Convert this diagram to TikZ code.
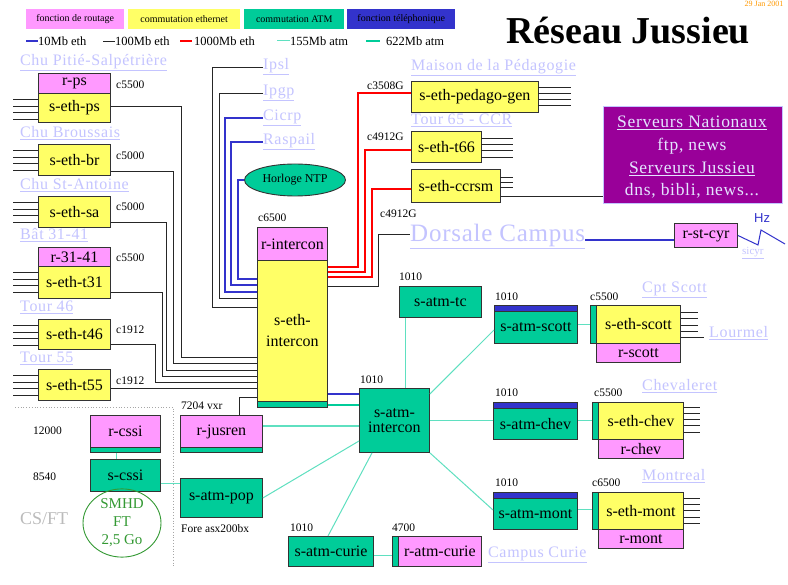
\documentclass[tikz,border=0pt]{standalone}
\usepackage{fontspec}
\setmainfont{Liberation Serif}
\newfontfamily\myHz{Liberation Sans}
\usetikzlibrary{shapes.geometric,calc}
\definecolor{cpink}{HTML}{FF99FF}
\definecolor{cyel}{HTML}{FFFF66}
\definecolor{cgreen}{HTML}{00CC99}
\definecolor{cblue}{HTML}{3333CC}
\definecolor{cpurple}{HTML}{990099}
\definecolor{clink}{HTML}{C4C4FF}
\definecolor{ccyan}{HTML}{5FE0C0}
\definecolor{cborder}{HTML}{333333}
\definecolor{corange}{HTML}{FF9900}
\definecolor{cgrayt}{HTML}{BBBBBB}
\definecolor{csmhd}{HTML}{339933}
\definecolor{cserv}{HTML}{E4E4FF}
\newcommand\myLbl{\fontsize{16}{18}\selectfont}
\newcommand\myLink{\fontsize{16}{18}\selectfont\addfontfeatures{LetterSpace=4}}
\newcommand\mySmall{\fontsize{11.5}{13}\selectfont}
\begin{document}
\begin{tikzpicture}[x=1pt,y=-1pt,
  box/.style={draw=cborder, line width=0.9pt, inner sep=0pt, anchor=north west, font=\myLbl},
  pbox/.style={box, fill=cpink},
  ybox/.style={box, fill=cyel},
  gbox/.style={box, fill=cgreen},
  bstrip/.style={box, fill=cblue},
  gstrip/.style={box, fill=cgreen},
  link/.style={anchor=west, text=clink, font=\myLink, inner sep=0pt},
  small/.style={anchor=west, font=\mySmall, inner sep=0pt},
  legbox/.style={anchor=north west, inner sep=0pt, minimum height=20pt, font=\fontsize{10}{11}\selectfont},
  legtxt/.style={anchor=west, inner sep=0pt, font=\fontsize{12.5}{13}\selectfont},
  l10/.style={draw=cblue, line width=1.6pt},
  l100/.style={draw=black!85, line width=0.8pt},
  l1000/.style={draw=red, line width=1.6pt},
  l155/.style={draw=ccyan, line width=1pt},
  l622/.style={draw=cgreen, line width=2.6pt},
  servtxt/.style={text=cserv, font=\fontsize{17.5}{19}\selectfont\addfontfeatures{LetterSpace=4}, inner sep=0pt}
]
\useasboundingbox (0,0) rectangle (788,585);
\fill[white] (0,0) rectangle (788,585);

% ---------- legend ----------
\node[legbox, fill=cpink, minimum width=98pt] (lg1) at (26,9) {fonction de routage};
\node[legbox, fill=cyel, minimum width=112pt] (lg2) at (128,9) {commutation ethernet};
\node[legbox, fill=cgreen, minimum width=100pt] (lg3) at (244,9) {commutation ATM};
\node[legbox, fill=cblue, minimum width=108pt] (lg4) at (347,9) {fonction t\'el\'ephonique};
\coordinate (ll1a) at (26,41); \coordinate (ll1b) at (38,41);
\draw[l10] (ll1a) -- (ll1b);
\node[legtxt] (lt1) at (38,41) {10Mb eth};
\coordinate (ll2a) at (103,41); \coordinate (ll2b) at (115,41);
\draw[l100] (ll2a) -- (ll2b);
\node[legtxt] (lt2) at (115,41) {100Mb eth};
\coordinate (ll3a) at (180,41); \coordinate (ll3b) at (192,41);
\draw[l1000] (ll3a) -- (ll3b);
\node[legtxt] (lt3) at (194,41) {1000Mb eth};
\coordinate (ll4a) at (277,41); \coordinate (ll4b) at (290,41);
\draw[l155] (ll4a) -- (ll4b);
\node[legtxt] (lt4) at (290,41) {155Mb atm};
\coordinate (ll5a) at (366,41); \coordinate (ll5b) at (380,41);
\draw[l622] (ll5a) -- (ll5b);
\node[legtxt] (lt5) at (386,41) {622Mb atm};

% ---------- title ----------
\node[anchor=base west, inner sep=0pt, font=\fontsize{38}{42}\selectfont\bfseries] (title) at (506,44) {R\'eseau Jussieu};
\node[anchor=base, inner sep=0pt, text=corange, font=\fontsize{8}{9}\selectfont] (date) at (764,7) {29 Jan 2001};

% ---------- left column ----------
\node[link] (lps) at (20,63) {\underline{Chu Piti\'e-Salp\'etri\`ere}};
\node[pbox, minimum width=72pt, minimum height=20pt] (rps) at (38,73) {r-ps};
\node[ybox, minimum width=72pt, minimum height=29pt] (ethps) at (38,93) {s-eth-ps};
\node[small] (cps) at (116,85) {c5500};

\node[link] (lbr) at (20,133) {\underline{Chu Broussais}};
\node[ybox, minimum width=72pt, minimum height=31pt] (ethbr) at (38,144) {s-eth-br};
\node[small] (cbr) at (116,156) {c5000};

\node[link] (lsa) at (20,185) {\underline{Chu St-Antoine}};
\node[ybox, minimum width=72pt, minimum height=31pt] (ethsa) at (38,196) {s-eth-sa};
\node[small] (csa) at (116,207) {c5000};

\node[link] (l31) at (20,235) {\underline{B\^at 31-41}};
\node[pbox, minimum width=72pt, minimum height=19pt] (r3141) at (38,247) {r-31-41};
\node[ybox, minimum width=72pt, minimum height=32pt] (etht31) at (38,266) {s-eth-t31};
\node[small] (c31) at (116,258) {c5500};

\node[link] (l46) at (20,307) {\underline{Tour 46}};
\node[ybox, minimum width=72pt, minimum height=30pt] (etht46) at (38,319) {s-eth-t46};
\node[small] (c46) at (116,330) {c1912};

\node[link] (l55) at (20,358) {\underline{Tour 55}};
\node[ybox, minimum width=72pt, minimum height=31pt] (etht55) at (38,369) {s-eth-t55};
\node[small] (c55) at (116,381) {c1912};

\foreach \n in {ethps,ethbr,ethsa,etht31,etht46,etht55}
  \foreach \o in {6.5,13,19.5,26}
    \draw[l100] (\n.north west) ++(0,\o) -- ++(-25,0);

% ---------- core ethernet ----------
\node[small] (c6500) at (258,218) {c6500};
\node[pbox, minimum width=70pt, minimum height=33pt] (ric) at (257,227) {r-intercon};
\node[ybox, minimum width=70pt, minimum height=141pt, align=center, font=\fontsize{16}{21}\selectfont] (ethic) at (257,260) {s-eth-\\intercon};
\node[gstrip, minimum width=70pt, minimum height=6pt] (ethics) at (257,401) {};

\draw[l100] (ethps.east |- 0,106) -| (181,357) -- (ethic.west |- 0,357);
\draw[l100] (ethbr.east |- 0,171) -| (173,363) -- (ethic.west |- 0,363);
\draw[l100] (ethsa.east |- 0,222) -| (166,370) -- (ethic.west |- 0,370);
\draw[l100] (etht31.east |- 0,292) -| (162,376) -- (ethic.west |- 0,376);
\draw[l100] (etht46.east |- 0,344) -| (155,382) -- (ethic.west |- 0,382);
\draw[l100] (etht55.east |- 0,388) -- (ethic.west |- 0,388);

% top sites
\node[link] (ipsl) at (263,67) {\underline{Ipsl}};
\node[link] (ipgp) at (263,93) {\underline{Ipgp}};
\node[link] (cicrp) at (263,118) {\underline{Cicrp}};
\node[link] (rasp) at (263,142) {\underline{Raspail}};
\node[ellipse, draw=cborder, line width=0.9pt, fill=cgreen, minimum width=101pt, minimum height=32pt, inner sep=0pt, font=\fontsize{12}{13}\selectfont] (ntp) at (295,180) {Horloge NTP};

\draw[l100] (ipsl.west) -| (212,307) -- (ethic.west |- 0,307);
\draw[l100] (ipgp.west) -| (219,298) -- (ethic.west |- 0,298);
\draw[l10] (cicrp.west) -| (225,292) -- (ethic.west |- 0,292);
\draw[l10] (rasp.west) -| (231,285) -- (ethic.west |- 0,285);
\draw[l10] (ntp.west) -| (238,279) -- (ethic.west |- 0,279);

% ---------- top right ethernet ----------
\node[link] (lmp) at (411,68) {\underline{Maison de la P\'edagogie}};
\node[ybox, minimum width=127pt, minimum height=31pt] (pedago) at (411,81) {s-eth-pedago-gen};
\node[small] (cped) at (367,86) {c3508G};
\node[link] (l65) at (411,120) {\underline{Tour 65 - CCR}};
\node[ybox, minimum width=70pt, minimum height=31pt] (t66) at (411,131) {s-eth-t66};
\node[small] (ct66) at (367,137) {c4912G};
\node[ybox, minimum width=89pt, minimum height=33pt] (ccrsm) at (411,169) {s-eth-ccrsm};
\node[small] (cccr) at (380,214) {c4912G};

\foreach \o in {6,12,18,24} \draw[l100] (pedago.north west) ++(127,\o) -- ++(33,0);
\foreach \o in {7,13,19,26} \draw[l100] (t66.north west) ++(70,\o) -- ++(32,0);
\foreach \o in {8,13,18} \draw[l100] (ccrsm.north west) ++(89,\o) -- ++(13,0);

\draw[l1000] (ethic.east |- 0,267) -| (358,93) -- (pedago.west |- 0,93);
\draw[l1000] (ethic.east |- 0,272) -| (365,150) -- (t66.west |- 0,150);
\draw[l1000] (ethic.east |- 0,277) -| (372,189) -- (ccrsm.west |- 0,189);

\node[link, font=\fontsize{25}{27}\selectfont\addfontfeatures{LetterSpace=3}] (dorsale) at (410,236) {\underline{Dorsale Campus}};
\draw[l100] (ethic.east |- 0,286) -| (378,234) -- (dorsale.west |- 0,234);

\node[anchor=north west, fill=cpurple, draw=clink, line width=0.8pt, minimum width=179pt, minimum height=97pt, inner sep=0pt] (serv) at (603,106) {};
\node[servtxt] (sv1) at (692,123) {\underline{Serveurs Nationaux}};
\node[servtxt] (sv2) at (692,146) {ftp, news};
\node[servtxt] (sv3) at (692,169) {\underline{Serveurs Jussieu}};
\node[servtxt] (sv4) at (692,191) {dns, bibli, news...};
\draw[l100] (ccrsm.east |- 0,196) -- (serv.west |- 0,196);

\node[pbox, minimum width=63pt, minimum height=24pt] (rstcyr) at (674,223) {r-st-cyr};
\draw[cblue, line width=2.2pt] (dorsale.east |- 0,240) -- (rstcyr.west |- 0,240);
\node[anchor=west, inner sep=0pt, text=cblue, font=\myHz\fontsize{13}{14}\selectfont] (hz) at (754,218) {Hz};
\coordinate (z1) at (758,245);
\coordinate (z2) at (761,230);
\coordinate (z3) at (785,244);
\draw[cblue, line width=1pt] (rstcyr.east) -- (z1) -- (z2) -- (z3);
\node[link, font=\fontsize{11}{12}\selectfont] (sicyr) at (742,253) {\underline{sicyr}};

% ---------- ATM ----------
\node[small] (c1010tc) at (399,277) {1010};
\node[gbox, minimum width=82pt, minimum height=31pt] (atmtc) at (399,286) {s-atm-tc};
\node[small] (c1010ic) at (360,380) {1010};
\node[gbox, minimum width=70pt, minimum height=64pt, align=center, font=\fontsize{16}{15}\selectfont] (atmic) at (359,388) {s-atm-\\intercon};

\draw[l10, line width=1.2pt] (ethic.east |- 0,394) -- (atmic.west |- 0,394);
\draw[l622] (ethics.east |- 0,405) -- (atmic.west |- 0,405);
\draw[l155] (atmtc.south -| 405,0) -- (atmic.north -| 405,0);

% Scott
\node[small] (c1010sc) at (495,297) {1010};
\node[bstrip, minimum width=83pt, minimum height=6pt] (atmscottb) at (494,305) {};
\node[gbox, minimum width=83pt, minimum height=32pt] (atmscott) at (494,311) {s-atm-scott};
\node[small] (c5500sc) at (590,297) {c5500};
\node[gstrip, minimum width=6pt, minimum height=38pt] (ethscotts) at (590,305) {};
\node[ybox, minimum width=84pt, minimum height=38pt] (ethscott) at (596,305) {s-eth-scott};
\node[pbox, minimum width=84pt, minimum height=19pt] (rscott) at (596,343) {r-scott};
\node[link] (lscott) at (642,290) {\underline{Cpt Scott}};
\node[link] (lourmel) at (709,333) {\underline{Lourmel}};
\foreach \o in {7,13,20,26} \draw[l100] (ethscott.north east) ++(0,\o) -- ++(17,0);
\draw[l100] (ethscott.north east) ++(0,32) -- ++(23,0);
\draw[l155] (atmic.east |- 0,394) -- (atmscott.west |- 0,330);
\draw[l155] (atmscott.east |- 0,325) -- (ethscotts.west |- 0,325);

% Chevaleret
\node[small] (c1010ch) at (495,393) {1010};
\node[bstrip, minimum width=84pt, minimum height=6pt] (atmchevb) at (493,402) {};
\node[gbox, minimum width=84pt, minimum height=31pt] (atmchev) at (493,408) {s-atm-chev};
\node[small] (c5500ch) at (594,393) {c5500};
\node[gstrip, minimum width=6pt, minimum height=37pt] (ethchevs) at (592,402) {};
\node[ybox, minimum width=85pt, minimum height=37pt] (ethchev) at (598,402) {s-eth-chev};
\node[pbox, minimum width=85pt, minimum height=19pt] (rchev) at (598,439) {r-chev};
\node[link] (lchev) at (642,386) {\underline{Chevaleret}};
\foreach \o in {5,11,17,23,30} \draw[l100] (ethchev.north east) ++(0,\o) -- ++(16,0);
\draw[l155] (atmic.east |- 0,421) -- (atmchev.west |- 0,421);
\draw[l155] (atmchev.east |- 0,421) -- (ethchevs.west |- 0,421);

% Montreal
\node[small] (c1010mo) at (495,483) {1010};
\node[bstrip, minimum width=84pt, minimum height=6pt] (atmmontb) at (493,492) {};
\node[gbox, minimum width=84pt, minimum height=31pt] (atmmont) at (493,498) {s-atm-mont};
\node[small] (c6500mo) at (592,483) {c6500};
\node[gstrip, minimum width=6pt, minimum height=37pt] (ethmonts) at (592,492) {};
\node[ybox, minimum width=85pt, minimum height=37pt] (ethmont) at (598,492) {s-eth-mont};
\node[pbox, minimum width=85pt, minimum height=19pt] (rmont) at (598,529) {r-mont};
\node[link] (lmont) at (642,476) {\underline{Montreal}};
\foreach \o in {6,12,18,25,31} \draw[l100] (ethmont.north east) ++(0,\o) -- ++(16,0);
\draw[l155] (atmic.south east) -- (atmmont.west |- 0,510);
\draw[l155] (atmmont.east |- 0,510) -- (ethmonts.west |- 0,510);

% Curie
\node[small] (c1010cu) at (290,528) {1010};
\node[gbox, minimum width=85pt, minimum height=30pt] (atmcurie) at (288,536) {s-atm-curie};
\node[small] (c4700) at (392,528) {4700};
\node[gstrip, minimum width=6pt, minimum height=30pt] (ratmcuries) at (392,536) {};
\node[pbox, minimum width=83pt, minimum height=30pt] (ratmcurie) at (398,536) {r-atm-curie};
\node[link] (lcurie) at (488,555) {\underline{Campus Curie}};
\draw[l155] (atmic.south -| 372,0) -- (atmcurie.north -| 328,0);
\draw[l155] (atmcurie.east |- 0,555) -- (ratmcuries.west |- 0,555);

% jusren / pop
\node[small] (c7204) at (181,406) {7204 vxr};
\node[pbox, minimum width=82pt, minimum height=32pt] (rjusren) at (180,415) {r-jusren};
\node[gstrip, minimum width=82pt, minimum height=5pt] (rjusrens) at (180,447) {};
\draw[l100] (ethic.west |- 0,397) -| (rjusren.north -| 239,0);
\draw[l155, line width=1.5pt] (rjusren.east |- 0,426) -- (atmic.west |- 0,426);

\node[gbox, minimum width=82pt, minimum height=39pt] (atmpop) at (180,478) {s-atm-pop};
\node[small] (cfore) at (181,529) {Fore asx200bx};
\draw[l155] (atmpop.east) -- (atmic.west |- 0,441);

% CS/FT
\coordinate (dA) at (15,407);
\coordinate (dB) at (173,407);
\coordinate (dC) at (173,566);
\draw[gray!70, dotted, line width=0.8pt] (dA) -- (dB) -- (dC);
\node[small] (c12000) at (33,431) {12000};
\node[pbox, minimum width=70pt, minimum height=32pt] (rcssi) at (90,415) {r-cssi};
\node[gstrip, minimum width=70pt, minimum height=5pt] (rcssis) at (90,447) {};
\node[small] (c8540) at (33,477) {8540};
\node[gbox, minimum width=70pt, minimum height=32pt] (scssi) at (90,459) {s-cssi};
\draw[l155] (rcssis.south -| 116,0) -- (scssi.north -| 116,0);
\draw[l155] (scssi.east |- 0,484) -- (atmpop.west |- 0,484);
\node[ellipse, draw=csmhd, line width=0.9pt, minimum width=78pt, minimum height=63pt, inner sep=0pt, text=csmhd, align=center, font=\fontsize{15}{18}\selectfont] (smhd) at (122,523) {SMHD\\FT\\2,5 Go};
\node[anchor=west, inner sep=0pt, text=cgrayt, font=\fontsize{18}{20}\selectfont] (csft) at (20,519) {CS/FT};
\end{tikzpicture}
\end{document}
